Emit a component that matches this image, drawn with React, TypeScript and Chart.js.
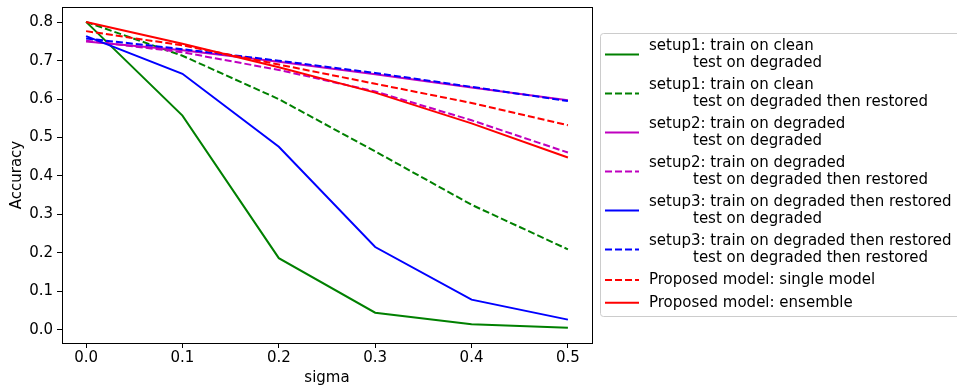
import React, { useEffect, useRef } from "react";
import { Chart, registerables } from "chart.js";

Chart.register(...registerables);

const sigma = [0, 0.1, 0.2, 0.3, 0.4, 0.5];
const setup1Degraded = [0.801, 0.557, 0.186, 0.044, 0.014, 0.005];
const setup1Restored = [0.801, 0.713, 0.6, 0.464, 0.325, 0.209];
const setup2Degraded = [0.75, 0.727, 0.697, 0.665, 0.63, 0.597];
const setup2Restored = [0.752, 0.722, 0.676, 0.62, 0.545, 0.461];
const setup3Degraded = [0.764, 0.666, 0.476, 0.215, 0.078, 0.026];
const setup3Restored = [0.758, 0.73, 0.7, 0.668, 0.632, 0.595];
const proposedSingle = [0.777, 0.74, 0.69, 0.64, 0.59, 0.532];
const proposedEnsemble = [0.801, 0.744, 0.683, 0.617, 0.537, 0.448];

const yTicks = [0, 0.1, 0.2, 0.3, 0.4, 0.5, 0.6, 0.7, 0.8];
const xTicks = [0, 0.1, 0.2, 0.3, 0.4, 0.5];

const seriesDefs = [
  { label: ["setup1: train on clean", "test on degraded"], data: setup1Degraded, color: "#008000", dashed: false },
  { label: ["setup1: train on clean", "test on degraded then restored"], data: setup1Restored, color: "#008000", dashed: true },
  { label: ["setup2: train on degraded", "test on degraded"], data: setup2Degraded, color: "#bf00bf", dashed: false },
  { label: ["setup2: train on degraded", "test on degraded then restored"], data: setup2Restored, color: "#bf00bf", dashed: true },
  { label: ["setup3: train on degraded then restored", "test on degraded"], data: setup3Degraded, color: "#0000ff", dashed: false },
  { label: ["setup3: train on degraded then restored", "test on degraded then restored"], data: setup3Restored, color: "#0000ff", dashed: true },
  { label: ["Proposed model: single model"], data: proposedSingle, color: "#ff0000", dashed: true },
  { label: ["Proposed model: ensemble"], data: proposedEnsemble, color: "#ff0000", dashed: false },
];

const FONT = "DejaVu Sans";
const FS = 15;
const DASH = [7, 3];

const framePlugin = {
  id: "frame",
  afterDatasetsDraw(chart: any) {
    const { ctx, chartArea } = chart;
    ctx.save();
    ctx.strokeStyle = "#000";
    ctx.lineWidth = 1;
    ctx.strokeRect(chartArea.left + 0.5, chartArea.top + 0.5, chartArea.right - chartArea.left, chartArea.bottom - chartArea.top);
    ctx.restore();
  },
};

const legendPlugin = {
  id: "customLegend",
  afterDraw(chart: any) {
    const ctx = chart.ctx;
    ctx.save();
    const bx = 600.5, by = 33.5, bw = 362, bh = 283, r = 3;
    ctx.beginPath();
    ctx.moveTo(bx + r, by);
    ctx.lineTo(bx + bw - r, by);
    ctx.arcTo(bx + bw, by, bx + bw, by + r, r);
    ctx.lineTo(bx + bw, by + bh - r);
    ctx.arcTo(bx + bw, by + bh, bx + bw - r, by + bh, r);
    ctx.lineTo(bx + r, by + bh);
    ctx.arcTo(bx, by + bh, bx, by + bh - r, r);
    ctx.lineTo(bx, by + r);
    ctx.arcTo(bx, by, bx + r, by, r);
    ctx.closePath();
    ctx.fillStyle = "rgba(255,255,255,0.8)";
    ctx.fill();
    ctx.strokeStyle = "#cccccc";
    ctx.lineWidth = 1;
    ctx.stroke();

    ctx.font = `${FS}px "${FONT}"`;
    ctx.textBaseline = "middle";
    ctx.textAlign = "left";
    let y = 46;
    seriesDefs.forEach((s) => {
      const lines = s.label;
      const hy = lines.length === 2 ? y + 8.5 : y;
      ctx.beginPath();
      ctx.strokeStyle = s.color;
      ctx.lineWidth = 2;
      ctx.setLineDash(s.dashed ? DASH : []);
      ctx.moveTo(605, hy);
      ctx.lineTo(639, hy);
      ctx.stroke();
      ctx.setLineDash([]);
      ctx.fillStyle = "#000";
      ctx.fillText(lines[0], 649, y);
      if (lines.length === 2) {
        ctx.fillText(lines[1], 693, y + 17);
        y += 39;
      } else {
        y += 22.7;
      }
    });
    ctx.restore();
  },
};

export default function App() {
  const ref = useRef<HTMLCanvasElement | null>(null);
  useEffect(() => {
    if (!ref.current) return;
    const n = seriesDefs.length;
    const chart = new Chart(ref.current, {
      type: "line",
      data: {
        datasets: seriesDefs.map((s, i) => ({
          label: s.label.join(" "),
          data: sigma.map((x, j) => ({ x, y: s.data[j] })),
          borderColor: s.color,
          backgroundColor: s.color,
          borderWidth: 2,
          borderDash: s.dashed ? DASH : [],
          pointRadius: 0,
          pointHoverRadius: 0,
          tension: 0,
          fill: false,
          order: n - 1 - i,
        })),
      },
      options: {
        animation: false,
        responsive: false,
        maintainAspectRatio: false,
        events: [],
        layout: { padding: { left: 0, top: 7, right: 365, bottom: 0 } },
        plugins: {
          legend: { display: false },
          tooltip: { enabled: false },
          title: { display: false },
        },
        scales: {
          x: {
            type: "linear",
            min: -0.025,
            max: 0.525,
            afterBuildTicks: (scale: any) => {
              scale.ticks = xTicks.map((v) => ({ value: v }));
            },
            afterFit: (scale: any) => {
              scale.height = 47;
              scale.paddingLeft = 0;
              scale.paddingRight = 0;
              scale.paddingTop = 0;
              scale.paddingBottom = 0;
            },
            border: { display: true, color: "#000", width: 1 },
            grid: { drawOnChartArea: false, drawTicks: true, tickLength: 5, color: "#000", tickWidth: 1 },
            ticks: {
              color: "#000",
              font: { family: FONT, size: FS },
              padding: 1,
              maxRotation: 0,
              autoSkip: false,
              callback: (v: any) => Number(v).toFixed(1),
            },
            title: {
              display: true,
              text: "sigma",
              color: "#000",
              font: { family: FONT, size: FS },
              padding: { top: 0, bottom: 3 },
            },
          },
          y: {
            type: "linear",
            min: -0.0348,
            max: 0.8398,
            afterBuildTicks: (scale: any) => {
              scale.ticks = yTicks.map((v) => ({ value: v }));
            },
            afterFit: (scale: any) => {
              scale.width = 62;
              scale.paddingLeft = 0;
              scale.paddingRight = 0;
              scale.paddingTop = 0;
              scale.paddingBottom = 0;
            },
            border: { display: true, color: "#000", width: 1 },
            grid: { drawOnChartArea: false, drawTicks: true, tickLength: 5, color: "#000", tickWidth: 1 },
            ticks: {
              color: "#000",
              font: { family: FONT, size: FS },
              padding: 4,
              autoSkip: false,
              callback: (v: any) => Number(v).toFixed(1),
            },
            title: {
              display: true,
              text: "Accuracy",
              color: "#000",
              font: { family: FONT, size: FS },
              padding: { top: 7.7, bottom: 0 },
            },
          },
        },
      },
      plugins: [framePlugin, legendPlugin],
    } as any);
    return () => chart.destroy();
  }, []);
  return (
    <div style={{ position: "absolute", left: 0, top: 0, width: 957, height: 390, background: "#fff" }}>
      <canvas ref={ref} width={957} height={390} style={{ width: 957, height: 390, display: "block" }} />
    </div>
  );
}
